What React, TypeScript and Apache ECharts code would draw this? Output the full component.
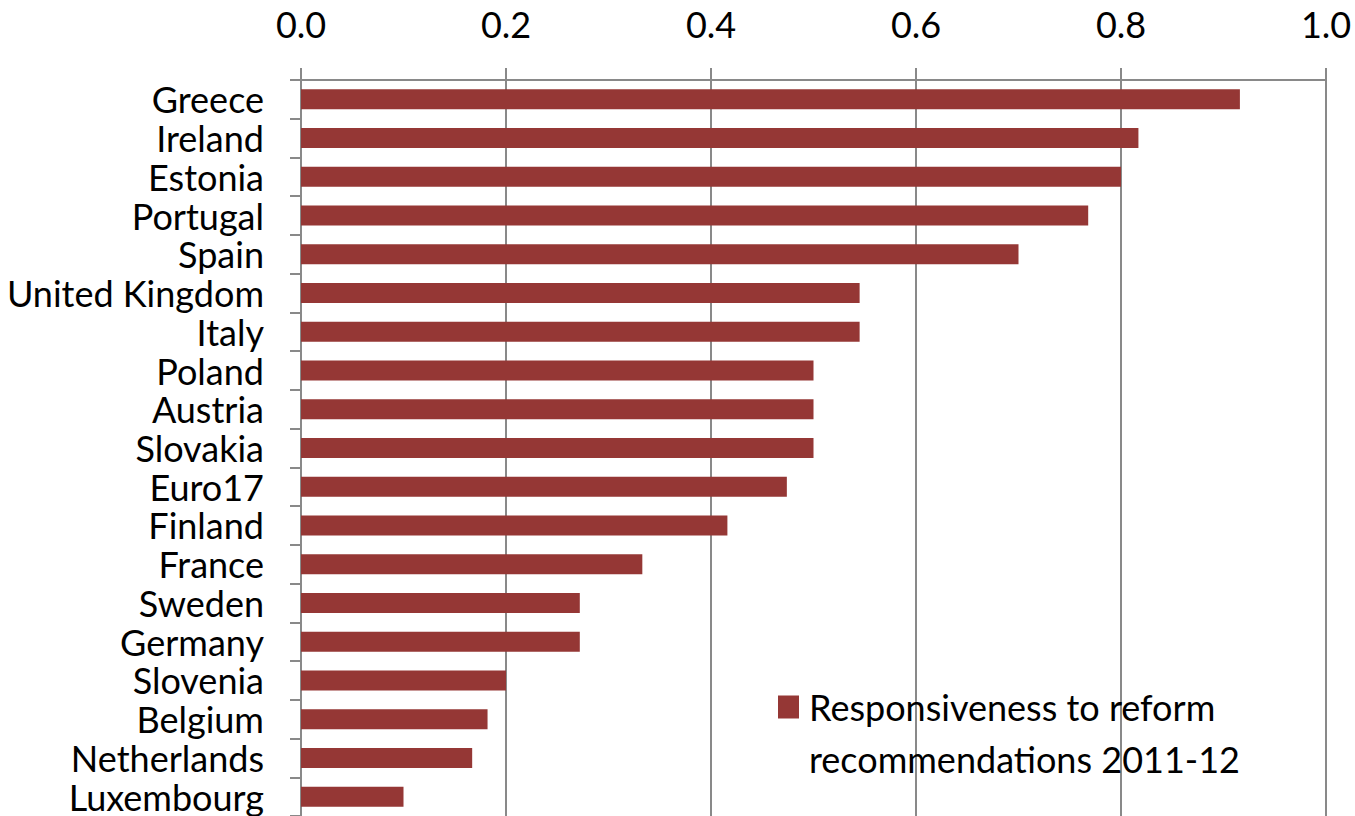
import React, { useEffect, useRef } from "react";
import * as echarts from "echarts";

const countries = [
  "Greece", "Ireland", "Estonia", "Portugal", "Spain", "United Kingdom", "Italy",
  "Poland", "Austria", "Slovakia", "Euro17", "Finland", "France", "Sweden",
  "Germany", "Slovenia", "Belgium", "Netherlands", "Luxembourg",
];

const responsiveness = [
  0.916, 0.817, 0.8, 0.768, 0.7, 0.545, 0.545,
  0.5, 0.5, 0.5, 0.474, 0.416, 0.333, 0.272,
  0.272, 0.2, 0.182, 0.167, 0.1,
];

const seriesName = "Responsiveness to reform recommendations 2011-12";
const legendLines = ["Responsiveness to reform", "recommendations 2011-12"];

const FONT = "Lato";
const GRAY = "#898989";
const BAR = "#953735";

export default function App() {
  const ref = useRef<HTMLDivElement>(null);

  useEffect(() => {
    document.body.style.margin = "0";
    const chart = echarts.init(ref.current!, undefined, { renderer: "svg" });
    chart.setOption({
      animation: false,
      textStyle: { fontFamily: FONT },
      grid: { left: 301, top: 80, width: 1025, height: 739, containLabel: false },
      xAxis: {
        type: "value",
        position: "top",
        min: 0,
        max: 1,
        interval: 0.2,
        axisLine: { show: true, lineStyle: { color: GRAY, width: 2 } },
        axisTick: { show: true, length: 12, lineStyle: { color: GRAY, width: 2 } },
        splitLine: { show: true, lineStyle: { color: GRAY, width: 2 } },
        axisLabel: {
          margin: 38,
          color: "#000",
          fontSize: 36,
          fontFamily: FONT,
          formatter: (v: number) => v.toFixed(1),
        },
      },
      yAxis: {
        type: "category",
        inverse: true,
        data: countries,
        axisLine: { show: true, lineStyle: { color: GRAY, width: 2 } },
        axisTick: { show: true, length: 11, lineStyle: { color: GRAY, width: 2 } },
        axisLabel: {
          interval: 0,
          margin: 37,
          color: "#000",
          fontSize: 36,
          lineHeight: 36,
          fontFamily: FONT,
        },
      },
      legend: {
        show: true,
        left: 778,
        top: 629,
        padding: 0,
        icon: "rect",
        itemWidth: 21,
        itemHeight: 23,
        itemGap: 10,
        // a blank first line keeps the swatch level with the first text line
        formatter: () => "\n" + legendLines.map((l) => `{t|${l}}`).join("\n"),
        textStyle: {
          color: "#000",
          fontSize: 36,
          fontFamily: FONT,
          lineHeight: 52,
          rich: {
            t: {
              color: "#000",
              fontSize: 36,
              fontFamily: FONT,
              lineHeight: 52,
              padding: [0, 0, 0, 5],
            },
          },
        },
        data: [seriesName],
      },
      series: [
        {
          name: seriesName,
          type: "bar",
          data: responsiveness,
          barWidth: 20,
          itemStyle: { color: BAR },
        },
      ],
    });
    return () => chart.dispose();
  }, []);

  return <div ref={ref} style={{ width: 1355, height: 816 }} />;
}
